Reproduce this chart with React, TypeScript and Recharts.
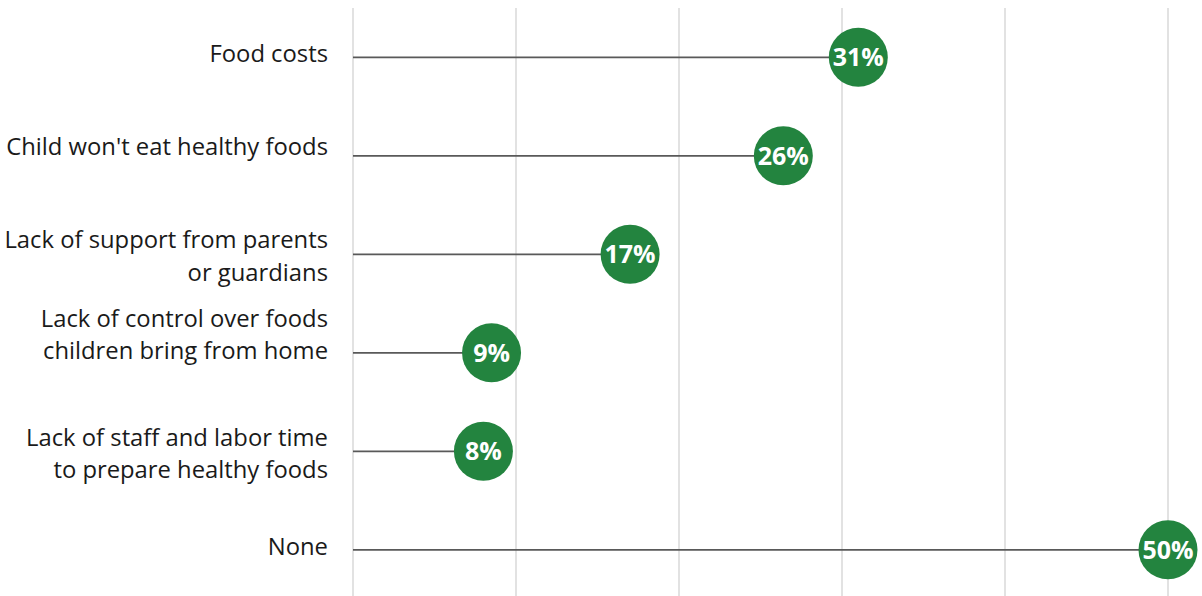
import React from 'react';
import { ComposedChart, Bar, XAxis, YAxis, CartesianGrid } from 'recharts';

const categories = [
  'Food costs',
  "Child won't eat healthy foods",
  'Lack of support from parents\nor guardians',
  'Lack of control over foods\nchildren bring from home',
  'Lack of staff and labor time\nto prepare healthy foods',
  'None',
];
const values = [31, 26.4, 17, 8.5, 8, 50];
const valueLabels = ['31%', '26%', '17%', '9%', '8%', '50%'];
const xTicks = [0, 10, 20, 30, 40, 50];

const data = categories.map((c, i) => ({ name: c, value: values[i], label: valueLabels[i] }));

const FONT = '"Open Sans", "Noto Sans", sans-serif';
// vertical shift of the first label line relative to the row centre (style only)
const LABEL_SHIFT = [-3.5, -9, -14.5, -34.5, -14, -3];

const CategoryTick = (props: any) => {
  const { x, y, payload, index } = props;
  const lines: string[] = String(payload.value).split('\n');
  const lh = 32.5;
  const shift = LABEL_SHIFT[index] ?? 0;
  return (
    <text x={x} y={y} textAnchor="end" fill="#1a1a1a" fontSize={23.8} fontFamily={FONT}>
      {lines.map((l, i) => (
        <tspan key={i} x={x} y={y + shift + i * lh} dy="0.357em">
          {l}
        </tspan>
      ))}
    </text>
  );
};

const Lollipop = (props: any) => {
  const { x, y, width, height, payload } = props;
  const cy = y + height / 2;
  const cx = x + width;
  return (
    <g>
      <line x1={x} y1={cy} x2={cx} y2={cy} stroke="#595959" strokeWidth={1.6} />
      <circle cx={cx} cy={cy} r={29.5} fill="#23843f" />
      <text
        x={cx}
        y={cy}
        dy="0.36em"
        textAnchor="middle"
        fill="#ffffff"
        fontSize={25}
        fontWeight={700}
        fontFamily={FONT}
      >
        {payload.label}
      </text>
    </g>
  );
};

export default function App() {
  return (
    <div style={{ position: 'absolute', left: 0, top: 0, width: 1202, height: 596, overflow: 'hidden', background: '#fff' }}>
      <ComposedChart
        width={1202}
        height={600}
        data={data}
        layout="vertical"
        margin={{ top: 8, right: 34, bottom: 1, left: 0 }}
      >
        <CartesianGrid vertical horizontal={false} stroke="#d9d9d9" strokeWidth={1.5} />
        <XAxis type="number" domain={[0, 50]} ticks={xTicks} hide />
        <YAxis
          type="category"
          dataKey="name"
          width={353}
          axisLine={false}
          tickLine={false}
          tick={<CategoryTick />}
          tickMargin={19}
          interval={0}
        />
        <Bar dataKey="value" shape={<Lollipop />} isAnimationActive={false} />
      </ComposedChart>
    </div>
  );
}
